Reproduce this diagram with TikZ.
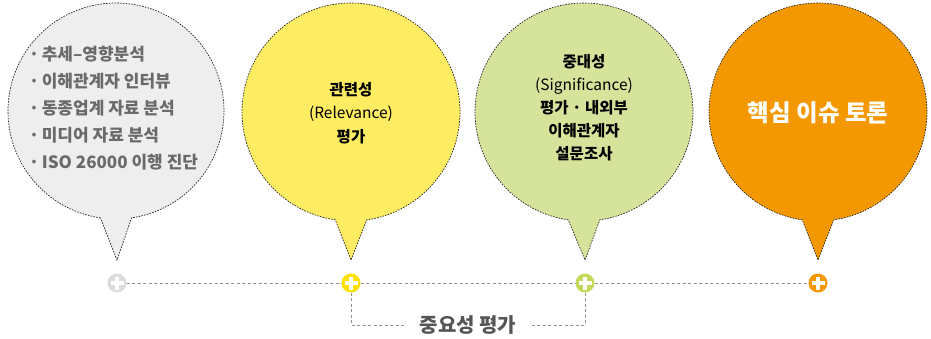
\documentclass[tikz,border=0pt]{standalone}
\usepackage{fontspec}
\setmainfont{Noto Sans CJK KR}
\usetikzlibrary{calc}
\definecolor{bgray}{HTML}{EEEEEE}
\definecolor{byellow}{HTML}{FEEC62}
\definecolor{bgreen}{HTML}{D6E39A}
\definecolor{borange}{HTML}{F39800}
\definecolor{pgray}{HTML}{DCDCDC}
\definecolor{pyellow}{HTML}{FFE100}
\definecolor{pgreen}{HTML}{C3D95A}
\definecolor{porange}{HTML}{F39800}
\definecolor{conncol}{HTML}{9A8C88}
\definecolor{txtgray}{HTML}{6A6A6A}
\definecolor{lblgray}{HTML}{555555}
\tikzset{
  bubble/.style={draw=black!85, line width=0.7pt, dash pattern=on 1.6pt off 1.2pt},
  plusmark/.style={circle, minimum size=19pt, inner sep=0pt, fill=#1,
    path picture={
      \draw[white, line width=4pt] ($(path picture bounding box.center)+(-6.5pt,0)$) -- ($(path picture bounding box.center)+(6.5pt,0)$);
      \draw[white, line width=4pt] ($(path picture bounding box.center)+(0,-6.5pt)$) -- ($(path picture bounding box.center)+(0,6.5pt)$);
    }},
  conn/.style={draw=conncol, line width=0.8pt, dash pattern=on 3pt off 2.5pt},
  btext/.style={align=center, text=black},
}
\newcommand{\bubbleshape}[5]{% center x, center y, fill color, radius, tip x
  \path[bubble, fill=#3] (#1,#2) ++(98.3:#4) arc[start angle=98.3, end angle=441.7, radius=#4] -- (#5,260) -- cycle;
}
\newcommand{\bdot}{\hspace{-0.25em}·\hspace{0.15em}}
\begin{document}
\begin{tikzpicture}[x=1pt, y=-1pt]
\useasboundingbox (0,0) rectangle (931,338);
% bubbles
\bubbleshape{116}{111}{bgray}{108}{117}
\bubbleshape{351}{112}{byellow}{109}{351}
\bubbleshape{584}{112}{bgreen}{109}{585}
\bubbleshape{818}{112}{borange}{109}{818}
% texts
\node[anchor=west, align=left, text=txtgray, font=\bfseries\fontsize{17}{27}\selectfont, inner sep=0pt] (t1) at (33,108)
  {\bdot 추세–영향분석\\\bdot 이해관계자 인터뷰\\\bdot 동종업계 자료 분석\\\bdot 미디어 자료 분석\\\bdot ISO 26000 이행 진단};
\node[btext, font=\fontsize{15.5}{23.5}\selectfont] (t2) at (351,113)
  {\textbf{관련성}\\(Relevance)\\\textbf{평가}};
\node[btext, font=\fontsize{15.5}{23}\selectfont] (t3) at (584,108)
  {\textbf{중대성}\\(Significance)\\\textbf{평가 · 내외부}\\\textbf{이해관계자}\\\textbf{설문조사}};
\node[btext, text=white, font=\bfseries\fontsize{23.5}{28}\selectfont] (t4) at (818,113)
  {핵심 이슈 토론};
% plus markers
\node[plusmark=pgray] (p1) at (117,283) {};
\node[plusmark=pyellow] (p2) at (351,283) {};
\node[plusmark=pgreen] (p3) at (585,283) {};
\node[plusmark=porange] (p4) at (818,283) {};
% connectors
\draw[conn] (p1) -- (p2);
\draw[conn] (p2) -- (p3);
\draw[conn] (p3) -- (p4);
\node[text=lblgray, font=\bfseries\fontsize{20}{22}\selectfont, inner xsep=13pt, inner ysep=0pt] (lbl) at (468,325) {중요성 평가};
\draw[conn] (p2) |- (lbl.west);
\draw[conn] (p3) |- (lbl.east);
\end{tikzpicture}
\end{document}
